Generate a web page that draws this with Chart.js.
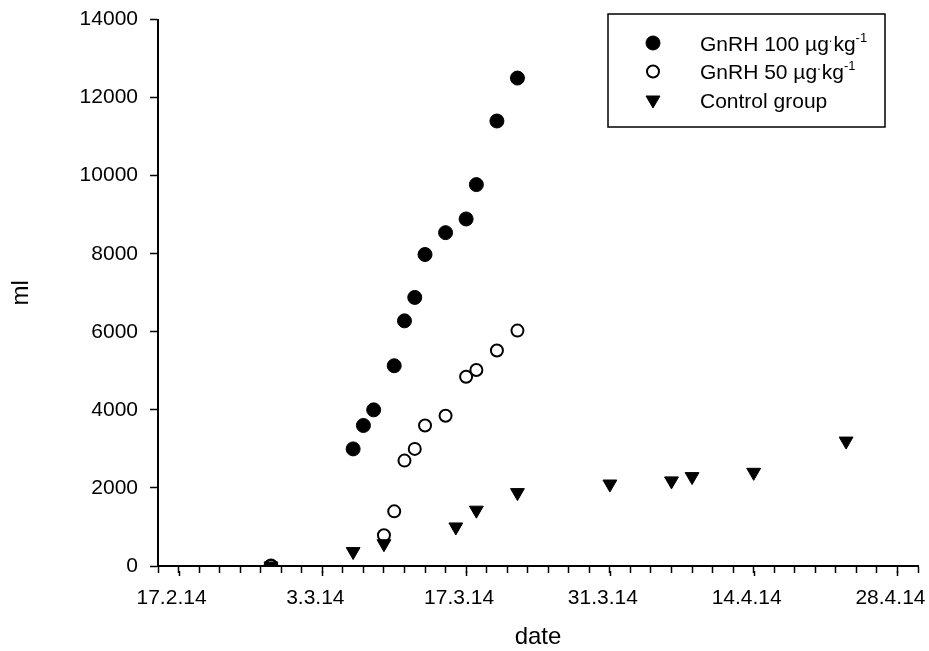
<!DOCTYPE html>
<html>
<head>
<meta charset="utf-8">
<script src="https://cdn.jsdelivr.net/npm/chart.js@4.4.1/dist/chart.umd.min.js"></script>
<style>
html, body { margin: 0; padding: 0; background: #fff; }
</style>
</head>
<body>
<canvas id="myChart" width="929" height="651"></canvas>
<script>
// dates are d.m.yy, values in ml
const gnrh100Dates = ['26.2.14', '6.3.14', '7.3.14', '8.3.14', '10.3.14', '11.3.14', '12.3.14', '13.3.14', '15.3.14', '17.3.14', '18.3.14', '20.3.14', '22.3.14'];
const gnrh100Values = [0, 3000, 3600, 4000, 5130, 6280, 6880, 7980, 8540, 8890, 9770, 11400, 12500];

const gnrh50Dates = ['26.2.14', '9.3.14', '10.3.14', '11.3.14', '12.3.14', '13.3.14', '15.3.14', '17.3.14', '18.3.14', '20.3.14', '22.3.14'];
const gnrh50Values = [0, 790, 1400, 2700, 3000, 3600, 3850, 4850, 5020, 5520, 6030];

const controlDates = ['26.2.14', '6.3.14', '9.3.14', '16.3.14', '18.3.14', '22.3.14', '31.3.14', '6.4.14', '8.4.14', '14.4.14', '23.4.14'];
const controlValues = [0, 370, 570, 1000, 1430, 1880, 2100, 2180, 2290, 2400, 3200];

// ^{...} marks superscript text
const seriesLabels = ['GnRH 100 µg^{.}kg^{-1}', 'GnRH 50 µg^{.}kg^{-1}', 'Control group'];
const xTickLabels = ['17.2.14', '3.3.14', '17.3.14', '31.3.14', '14.4.14', '28.4.14'];
const yTickValues = [0, 2000, 4000, 6000, 8000, 10000, 12000, 14000];

// day number from a d.m.yy string
function toDay(s) {
    const [d, m, y] = s.split('.').map(Number);
    return Date.UTC(2000 + y, m - 1, d) / 86400000;
}

function toPoints(dates, values) {
    return dates.map((d, i) => ({ x: toDay(d), y: values[i] }));
}

const majorDays = xTickLabels.map(toDay);
const FONT = '"Liberation Sans", Arial, sans-serif';

Chart.defaults.font.family = FONT;
Chart.defaults.color = '#000';

// longer ticks at the labelled dates
const majorTicks = {
    id: 'majorTicks',
    afterDraw(chart) {
        const ctx = chart.ctx;
        const x = chart.scales.x;
        const y0 = chart.chartArea.bottom;
        ctx.save();
        ctx.strokeStyle = '#000';
        ctx.lineWidth = 1.5;
        majorDays.forEach(d => {
            const px = Math.round(x.getPixelForValue(d)) + 0.5;
            ctx.beginPath();
            ctx.moveTo(px, y0 + 5);
            ctx.lineTo(px, y0 + 10);
            ctx.stroke();
        });
        ctx.restore();
    }
};

// split 'abc^{x}def' into plain and superscript parts
function splitLabel(text) {
    const parts = [];
    const re = /\^\{([^}]*)\}/g;
    let last = 0, m;
    while ((m = re.exec(text)) !== null) {
        if (m.index > last) parts.push({ t: text.slice(last, m.index), sup: false });
        parts.push({ t: m[1], sup: true });
        last = re.lastIndex;
    }
    if (last < text.length) parts.push({ t: text.slice(last), sup: false });
    return parts;
}

// boxed legend inside the plot, top right
const legendBox = {
    id: 'legendBox',
    afterDraw(chart) {
        const { ctx, chartArea } = chart;
        const left = chartArea.right - 310;
        const top = chartArea.top - 5.5;
        ctx.save();
        ctx.strokeStyle = '#000';
        ctx.lineWidth = 1.5;
        ctx.strokeRect(left, top, 277, 113);

        chart.data.datasets.forEach((ds, i) => {
            const cy = top + 29 + i * 28.5;
            ctx.fillStyle = ds.backgroundColor;
            ctx.strokeStyle = ds.borderColor;
            ctx.lineWidth = ds.borderWidth;
            Chart.helpers.drawPoint(ctx, {
                pointStyle: ds.pointStyle,
                radius: ds.pointRadius,
                rotation: ds.pointRotation || 0,
                borderWidth: ds.borderWidth
            }, left + 45, cy);

            let tx = left + 92;
            const base = cy + 7.5;
            ctx.fillStyle = '#000';
            ctx.textBaseline = 'alphabetic';
            ctx.textAlign = 'left';
            splitLabel(ds.label).forEach(p => {
                ctx.font = (p.sup ? '13px ' : '21px ') + FONT;
                ctx.fillText(p.t, tx, p.sup ? base - 9 : base);
                tx += ctx.measureText(p.t).width + (p.sup ? 1 : 0);
            });
        });
        ctx.restore();
    }
};

const ctx = document.getElementById('myChart').getContext('2d');
const myChart = new Chart(ctx, {
    type: 'scatter',
    data: {
        datasets: [{
            label: seriesLabels[0],
            data: toPoints(gnrh100Dates, gnrh100Values),
            pointStyle: 'circle',
            pointRadius: 7,
            backgroundColor: '#000',
            borderColor: '#000',
            borderWidth: 1,
            order: 3
        }, {
            label: seriesLabels[1],
            data: toPoints(gnrh50Dates, gnrh50Values),
            pointStyle: 'circle',
            pointRadius: 6,
            backgroundColor: '#fff',
            borderColor: '#000',
            borderWidth: 2,
            order: 2
        }, {
            label: seriesLabels[2],
            data: toPoints(controlDates, controlValues),
            pointStyle: 'triangle',
            pointRotation: 180,
            pointRadius: 8,
            backgroundColor: '#000',
            borderColor: '#000',
            borderWidth: 1,
            order: 1
        }]
    },
    options: {
        responsive: false,
        animation: false,
        events: [],
        layout: { padding: { top: 19.5, right: 11, left: 0, bottom: 0 } },
        plugins: {
            legend: { display: false },
            tooltip: { enabled: false }
        },
        scales: {
            x: {
                type: 'linear',
                position: 'bottom',
                min: toDay('15.2.14'),
                max: toDay('30.4.14'),
                afterBuildTicks: axis => {
                    const t = [];
                    for (let d = axis.min; d <= axis.max; d += 2) t.push({ value: d });
                    axis.ticks = t;
                },
                afterFit: scale => {
                    scale.height = 85;
                    scale.paddingLeft = 0;
                    scale.paddingRight = 0;
                },
                ticks: {
                    autoSkip: false,
                    maxRotation: 0,
                    padding: 13,
                    labelOffset: -7,
                    font: { size: 21 },
                    callback: value => {
                        const i = majorDays.indexOf(value);
                        return i >= 0 ? xTickLabels[i] : '';
                    }
                },
                grid: { drawOnChartArea: false, tickLength: 7, tickColor: '#000', tickWidth: 1.5 },
                border: { display: true, color: '#000', width: 2 },
                title: {
                    display: true,
                    text: 'date',
                    font: { size: 24, lineHeight: 1 },
                    padding: { top: 0, bottom: 2 }
                }
            },
            y: {
                min: 0,
                max: 14000,
                afterBuildTicks: axis => { axis.ticks = yTickValues.map(v => ({ value: v })); },
                afterFit: scale => {
                    scale.width = 158;
                    scale.paddingTop = 0;
                    scale.paddingBottom = 0;
                },
                ticks: {
                    padding: 12,
                    font: { size: 21 },
                    callback: value => String(value)
                },
                grid: { drawOnChartArea: false, tickLength: 8, tickColor: '#000', tickWidth: 1.5 },
                border: { display: true, color: '#000', width: 2 },
                title: {
                    display: true,
                    text: 'ml',
                    font: { size: 24, lineHeight: 1 },
                    padding: { top: 9, bottom: 0 }
                }
            }
        }
    },
    plugins: [majorTicks, legendBox]
});
</script>
</body>
</html>
